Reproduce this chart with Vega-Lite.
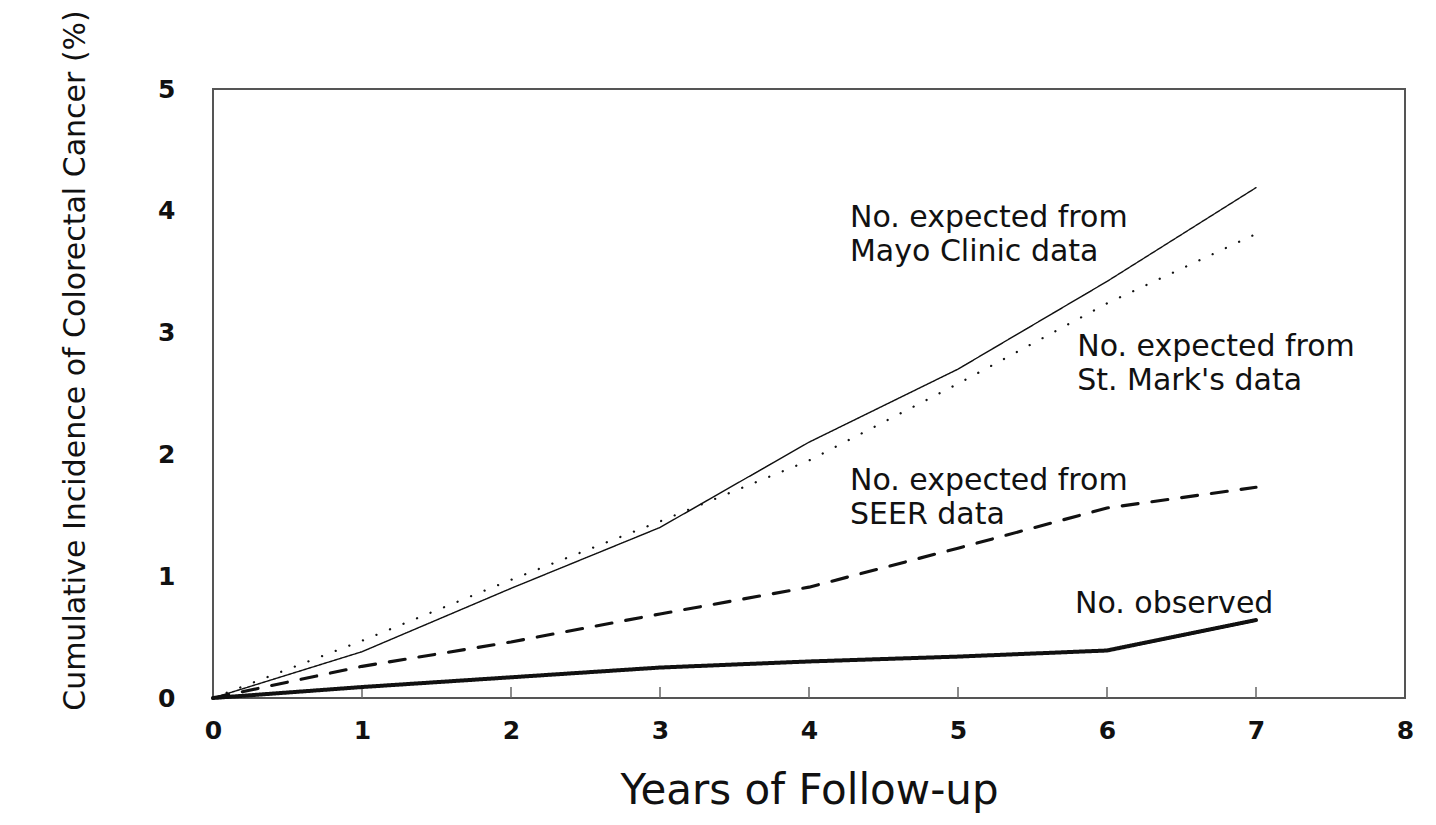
{
  "$schema": "https://vega.github.io/schema/vega-lite/v6.json",
  "width": 1192,
  "height": 609,
  "autosize": {"type": "none"},
  "padding": {"left": 213, "top": 89, "right": 31, "bottom": 127},
  "background": "#ffffff",
  "config": {
    "view": {"stroke": "#555555", "strokeWidth": 2, "fill": "#ffffff"},
    "axis": {"grid": false, "domain": false}
  },
  "datasets": {
    "series": [
      {"year": 0, "series": "Mayo", "pct": 0},
      {"year": 1, "series": "Mayo", "pct": 0.38},
      {"year": 2, "series": "Mayo", "pct": 0.9},
      {"year": 3, "series": "Mayo", "pct": 1.4},
      {"year": 4, "series": "Mayo", "pct": 2.1},
      {"year": 5, "series": "Mayo", "pct": 2.7},
      {"year": 6, "series": "Mayo", "pct": 3.42},
      {"year": 7, "series": "Mayo", "pct": 4.19},
      {"year": 0, "series": "StMark", "pct": 0},
      {"year": 1, "series": "StMark", "pct": 0.47},
      {"year": 2, "series": "StMark", "pct": 0.97},
      {"year": 3, "series": "StMark", "pct": 1.45},
      {"year": 4, "series": "StMark", "pct": 1.95},
      {"year": 5, "series": "StMark", "pct": 2.58},
      {"year": 6, "series": "StMark", "pct": 3.24},
      {"year": 7, "series": "StMark", "pct": 3.81},
      {"year": 0, "series": "SEER", "pct": 0},
      {"year": 1, "series": "SEER", "pct": 0.26},
      {"year": 2, "series": "SEER", "pct": 0.46},
      {"year": 3, "series": "SEER", "pct": 0.69},
      {"year": 4, "series": "SEER", "pct": 0.91},
      {"year": 5, "series": "SEER", "pct": 1.23},
      {"year": 6, "series": "SEER", "pct": 1.56},
      {"year": 7, "series": "SEER", "pct": 1.73},
      {"year": 0, "series": "Observed", "pct": 0},
      {"year": 1, "series": "Observed", "pct": 0.09},
      {"year": 2, "series": "Observed", "pct": 0.17},
      {"year": 3, "series": "Observed", "pct": 0.25},
      {"year": 4, "series": "Observed", "pct": 0.3},
      {"year": 5, "series": "Observed", "pct": 0.34},
      {"year": 6, "series": "Observed", "pct": 0.39},
      {"year": 7, "series": "Observed", "pct": 0.64}
    ],
    "labels": [
      {"x": 4.275, "y": 3.94, "text": "No. expected from"},
      {"x": 4.275, "y": 3.66, "text": "Mayo Clinic data"},
      {"x": 5.8, "y": 2.88, "text": "No. expected from"},
      {"x": 5.8, "y": 2.6, "text": "St. Mark's data"},
      {"x": 4.275, "y": 1.78, "text": "No. expected from"},
      {"x": 4.275, "y": 1.5, "text": "SEER data"},
      {"x": 5.785, "y": 0.77, "text": "No. observed"}
    ],
    "ticks": [
      {"year": 1}, {"year": 2}, {"year": 3}, {"year": 4}, {"year": 5}, {"year": 6}, {"year": 7}
    ]
  },
  "layer": [
    {
      "data": {"name": "ticks"},
      "mark": {"type": "rule", "color": "#666666", "strokeWidth": 1.5},
      "encoding": {
        "x": {"field": "year", "type": "quantitative"},
        "y": {"datum": 0},
        "y2": {"datum": 0.09}
      }
    },
    {
      "data": {"name": "series"},
      "mark": {"type": "line", "strokeCap": "round", "strokeJoin": "round", "color": "#111111"},
      "encoding": {
        "x": {
          "field": "year", "type": "quantitative",
          "scale": {"domain": [0, 8], "nice": false, "zero": false},
          "axis": {
            "values": [0, 1, 2, 3, 4, 5, 6, 7, 8],
            "format": "d",
            "title": "Years of Follow-up",
            "titleFont": "DejaVu Sans", "titleFontSize": 42, "titleFontWeight": "normal", "titleColor": "#111111",
            "titleX": 596, "titleY": 92, "titleBaseline": "middle", "titleAnchor": null,
            "labelFont": "DejaVu Sans", "labelFontSize": 25, "labelFontWeight": "bold", "labelColor": "#111111",
            "labelBaseline": "top", "labelPadding": 20, "labelFlush": false,
            "ticks": false
          }
        },
        "y": {
          "field": "pct", "type": "quantitative",
          "scale": {"domain": [0, 5], "nice": false},
          "axis": {
            "values": [0, 1, 2, 3, 4, 5],
            "format": "d",
            "title": "Cumulative Incidence of Colorectal Cancer (%)",
            "titleFont": "DejaVu Sans", "titleFontSize": 30, "titleFontWeight": "normal", "titleColor": "#111111",
            "titleAngle": -90, "titleX": -138, "titleY": 271, "titleAlign": "center", "titleBaseline": "middle", "titleAnchor": null,
            "labelFont": "DejaVu Sans", "labelFontSize": 25, "labelFontWeight": "bold", "labelColor": "#111111",
            "labelPadding": 38, "labelFlush": false, "labelBaseline": "middle",
            "ticks": false
          }
        },
        "detail": {"field": "series", "type": "nominal"},
        "strokeDash": {
          "field": "series", "type": "nominal",
          "scale": {"domain": ["Mayo", "StMark", "SEER", "Observed"], "range": [[1, 0], [0.1, 14.5], [16, 14], [1, 0]]},
          "legend": null
        },
        "strokeWidth": {
          "field": "series", "type": "ordinal",
          "scale": {"domain": ["Mayo", "StMark", "SEER", "Observed"], "range": [1.4, 4, 3.2, 3.8]},
          "legend": null
        }
      }
    },
    {
      "data": {"name": "labels"},
      "mark": {"type": "text", "align": "left", "baseline": "middle", "font": "DejaVu Sans", "fontSize": 30, "color": "#111111"},
      "encoding": {
        "x": {"field": "x", "type": "quantitative"},
        "y": {"field": "y", "type": "quantitative"},
        "text": {"field": "text"}
      }
    }
  ]
}
